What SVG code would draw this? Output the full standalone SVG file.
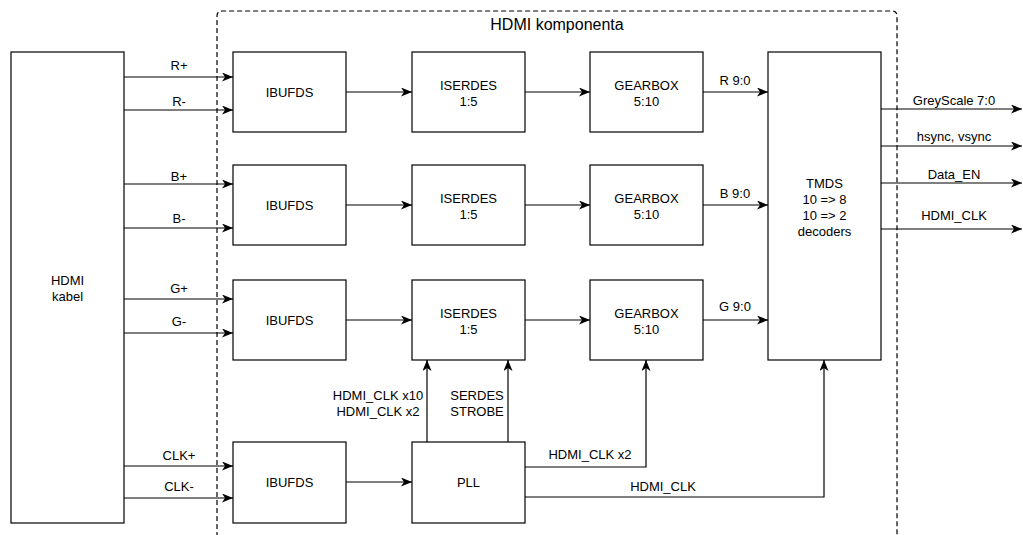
<svg xmlns="http://www.w3.org/2000/svg" width="1023" height="535" viewBox="0 0 1023 535">
<style>
.box{fill:#fff;stroke:#000;stroke-width:1.2}
.ln{fill:none;stroke:#000;stroke-width:1.2;marker-end:url(#arr)}
.t{font-family:"Liberation Sans",Arial,sans-serif;font-size:13px;fill:#000;text-anchor:middle}
.title{font-size:16px}
</style>
<defs>
<marker id="arr" markerUnits="userSpaceOnUse" markerWidth="12" markerHeight="9" refX="11" refY="4.5" orient="auto">
<path d="M0,0 L11,4.5 L0,9 L3,4.5 z" fill="#000"/>
</marker>
</defs>
<rect width="1023" height="535" fill="#fff"/>
<g id="container">
<path d="M217,545 L217,16 Q217,11 222,11 L892,11 Q897,11 897,16 L897,545" fill="none" stroke="#000" stroke-width="1.2" stroke-dasharray="5 3"/>
<text class="t title" x="557" y="30">HDMI komponenta</text>
</g>
<g id="connectors">
<path class="ln" d="M124,77 H233"/>
<path class="ln" d="M124,110 H233"/>
<path class="ln" d="M124,184 H233"/>
<path class="ln" d="M124,228 H233"/>
<path class="ln" d="M124,299 H233"/>
<path class="ln" d="M124,333 H233"/>
<path class="ln" d="M124,466 H233"/>
<path class="ln" d="M124,498 H233"/>
<path class="ln" d="M346,92 H412"/>
<path class="ln" d="M525,92 H590"/>
<path class="ln" d="M703,92 H768"/>
<path class="ln" d="M346,205 H412"/>
<path class="ln" d="M525,205 H590"/>
<path class="ln" d="M703,205 H768"/>
<path class="ln" d="M346,320 H412"/>
<path class="ln" d="M525,320 H590"/>
<path class="ln" d="M703,320 H768"/>
<path class="ln" d="M346,482 H412"/>
<path class="ln" d="M427,442 V360"/>
<path class="ln" d="M508,442 V360"/>
<path class="ln" d="M525,467 H646 V360"/>
<path class="ln" d="M525,497 H824 V360"/>
<path class="ln" d="M881,109 H1022"/>
<path class="ln" d="M881,146 H1022"/>
<path class="ln" d="M881,183 H1022"/>
<path class="ln" d="M881,229 H1022"/>
<text class="t" x="179" y="69.5">R+</text>
<text class="t" x="179" y="105.5">R-</text>
<text class="t" x="179" y="180.5">B+</text>
<text class="t" x="179" y="222.5">B-</text>
<text class="t" x="179" y="293">G+</text>
<text class="t" x="179" y="326">G-</text>
<text class="t" x="179" y="459.5">CLK+</text>
<text class="t" x="179" y="491">CLK-</text>
<text class="t" x="735" y="84.5">R 9:0</text>
<text class="t" x="735" y="197.5">B 9:0</text>
<text class="t" x="735" y="311">G 9:0</text>
<text class="t" x="378" y="400">HDMI_CLK x10</text>
<text class="t" x="378" y="416">HDMI_CLK x2</text>
<text class="t" x="477" y="400">SERDES</text>
<text class="t" x="477" y="416">STROBE</text>
<text class="t" x="590" y="458.5">HDMI_CLK x2</text>
<text class="t" x="663" y="491">HDMI_CLK</text>
<text class="t" x="954" y="104.5">GreyScale 7:0</text>
<text class="t" x="954" y="141">hsync, vsync</text>
<text class="t" x="954" y="178.5">Data_EN</text>
<text class="t" x="954" y="219.5">HDMI_CLK</text>
</g>
<g id="hdmi-kabel"><rect class="box" x="11" y="52" width="113" height="471"/><text class="t" x="67.5" y="285">HDMI</text><text class="t" x="67.5" y="301">kabel</text></g>
<g id="ibufds-r"><rect class="box" x="233" y="52" width="113" height="80"/><text class="t" x="289.5" y="97">IBUFDS</text></g>
<g id="iserdes-r"><rect class="box" x="412" y="52" width="113" height="80"/><text class="t" x="468.5" y="89.5">ISERDES</text><text class="t" x="468.5" y="105.5">1:5</text></g>
<g id="gearbox-r"><rect class="box" x="590" y="52" width="113" height="80"/><text class="t" x="646.5" y="89.5">GEARBOX</text><text class="t" x="646.5" y="105.5">5:10</text></g>
<g id="ibufds-b"><rect class="box" x="233" y="165" width="113" height="80"/><text class="t" x="289.5" y="210">IBUFDS</text></g>
<g id="iserdes-b"><rect class="box" x="412" y="165" width="113" height="80"/><text class="t" x="468.5" y="202.5">ISERDES</text><text class="t" x="468.5" y="218.5">1:5</text></g>
<g id="gearbox-b"><rect class="box" x="590" y="165" width="113" height="80"/><text class="t" x="646.5" y="202.5">GEARBOX</text><text class="t" x="646.5" y="218.5">5:10</text></g>
<g id="ibufds-g"><rect class="box" x="233" y="280" width="113" height="80"/><text class="t" x="289.5" y="325">IBUFDS</text></g>
<g id="iserdes-g"><rect class="box" x="412" y="280" width="113" height="80"/><text class="t" x="468.5" y="317.5">ISERDES</text><text class="t" x="468.5" y="333.5">1:5</text></g>
<g id="gearbox-g"><rect class="box" x="590" y="280" width="113" height="80"/><text class="t" x="646.5" y="317.5">GEARBOX</text><text class="t" x="646.5" y="333.5">5:10</text></g>
<g id="ibufds-clk"><rect class="box" x="233" y="442" width="113" height="81"/><text class="t" x="289.5" y="487">IBUFDS</text></g>
<g id="pll"><rect class="box" x="412" y="442" width="113" height="81"/><text class="t" x="468.5" y="487">PLL</text></g>
<g id="tmds"><rect class="box" x="768" y="52" width="113" height="308"/><text class="t" x="824.5" y="187.5">TMDS</text><text class="t" x="824.5" y="203.5">10 =&gt; 8</text><text class="t" x="824.5" y="219.5">10 =&gt; 2</text><text class="t" x="824.5" y="235.5">decoders</text></g>
</svg>
